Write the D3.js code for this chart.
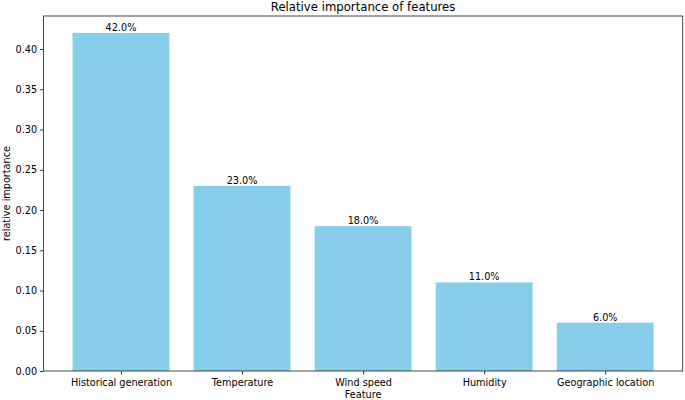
<!DOCTYPE html>
<html><head><meta charset="utf-8">
<script src="https://cdn.jsdelivr.net/npm/d3@7"></script>
<style>body{margin:0;background:#fff}svg{display:block;font-family:"DejaVu Sans",sans-serif}</style>
</head><body><svg id="c" width="685" height="400"></svg>
<script>
const categories = ["Historical generation","Temperature","Wind speed","Humidity","Geographic location"];
const values = [0.42,0.23,0.18,0.11,0.06];
const yTicks = [0,0.05,0.10,0.15,0.20,0.25,0.30,0.35,0.40];
const title = "Relative importance of features";
const xTitle = "Feature";
const yTitle = "relative importance";

const svg = d3.select("#c");
const L=43.5, R=682.7, T=16, B=371;
const x = d3.scaleLinear().domain([-0.64, 4.64]).range([L,R]);
const y = d3.scaleLinear().domain([0,0.441]).range([B,T]);
const fs = 9.7;

svg.selectAll("rect.bar").data(values).join("rect").attr("class","bar")
  .attr("x",(d,i)=>x(i-0.4)).attr("width",(d,i)=>x(i+0.4)-x(i-0.4))
  .attr("y",d=>y(d)).attr("height",d=>B-y(d)).attr("fill","#87CEEB");

svg.selectAll("text.lbl").data(values).join("text").attr("class","lbl")
  .attr("x",(d,i)=>x(i)).attr("y",d=>y(d)-2).attr("text-anchor","middle")
  .attr("font-size",fs).attr("fill","#000").text(d=>(d*100).toFixed(1)+"%");

const ya = d3.axisLeft(y).tickValues(yTicks).tickFormat(d3.format(".2f")).tickSize(3.4).tickPadding(3);
svg.append("g").attr("transform",`translate(${L},0)`).call(ya)
  .call(g=>{g.select(".domain").remove();g.selectAll("text").attr("font-size",fs).attr("fill","#000").attr("font-family","DejaVu Sans");g.selectAll("line").attr("stroke","#333");});
const xa = d3.axisBottom(x).tickValues(d3.range(categories.length)).tickFormat(i=>categories[i]).tickSize(3.4).tickPadding(4.5);
svg.append("g").attr("transform",`translate(0,${B})`).call(xa)
  .call(g=>{g.select(".domain").remove();g.selectAll("text").attr("font-size",fs).attr("fill","#000").attr("font-family","DejaVu Sans");g.selectAll("line").attr("stroke","#333");});

svg.append("rect").attr("x",L).attr("y",T).attr("width",R-L).attr("height",B-T)
  .attr("fill","none").attr("stroke","#333").attr("stroke-width",0.9);

svg.append("text").attr("x",(L+R)/2).attr("y",T-5).attr("text-anchor","middle").attr("font-size",11.7).text(title);
svg.append("text").attr("x",(L+R)/2).attr("y",398).attr("text-anchor","middle").attr("font-size",fs).text(xTitle);
svg.append("text").attr("transform",`translate(10,${(T+B)/2}) rotate(-90)`).attr("text-anchor","middle").attr("font-size",fs).text(yTitle);
</script></body></html>
